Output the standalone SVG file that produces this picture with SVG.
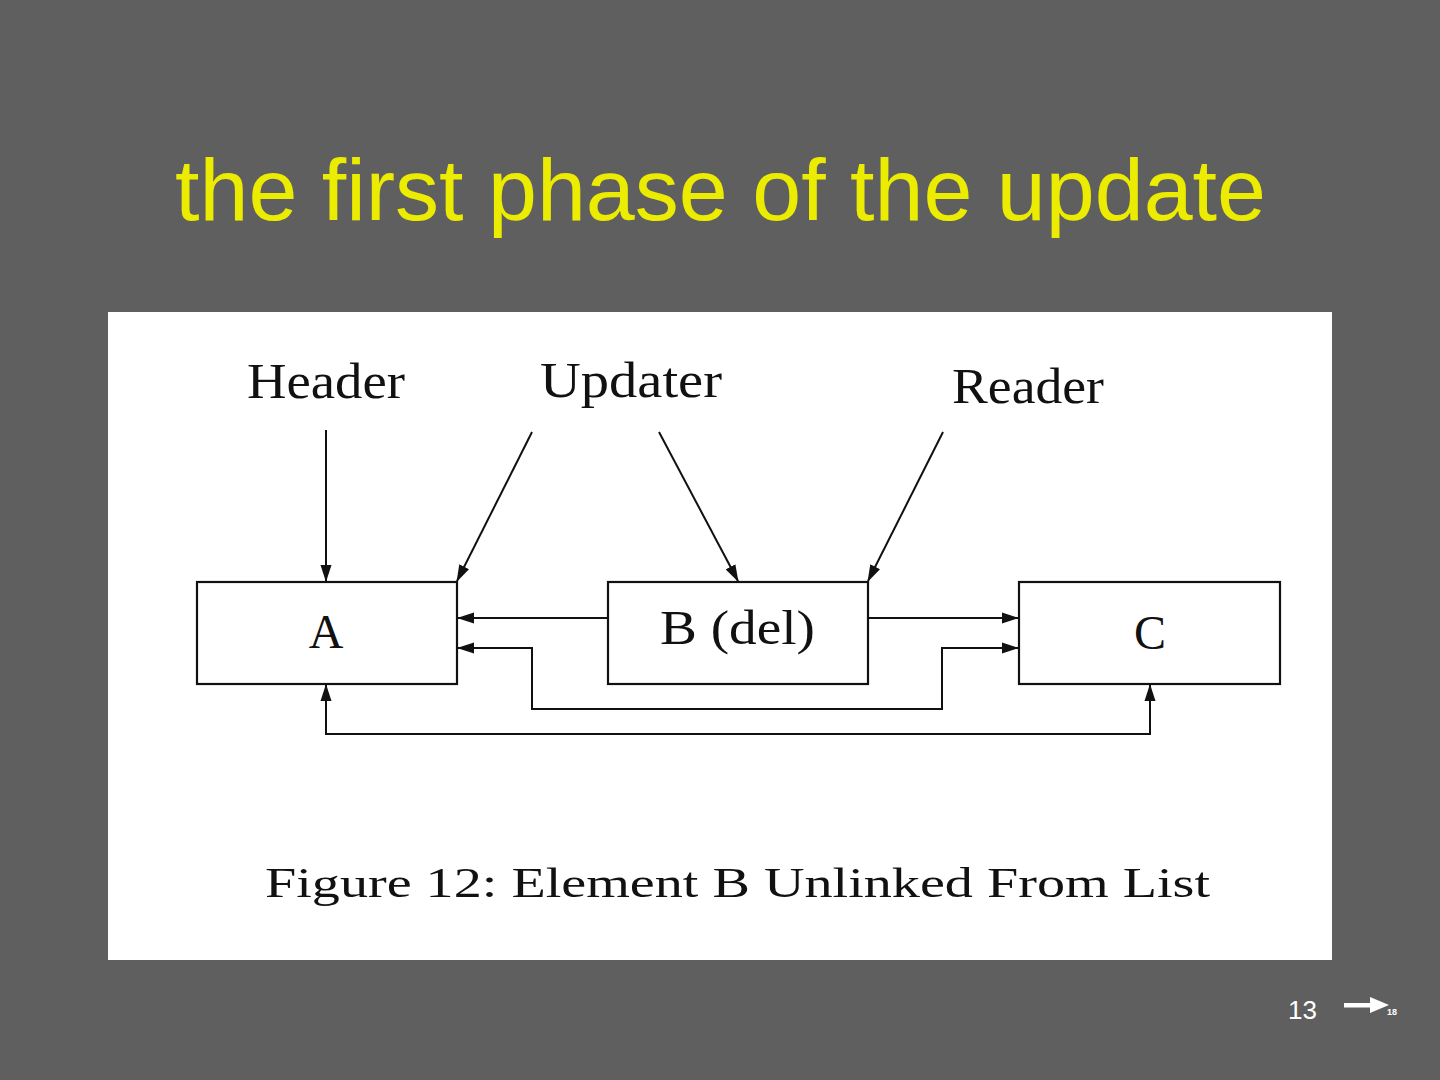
<svg xmlns="http://www.w3.org/2000/svg" width="1440" height="1080" viewBox="0 0 1440 1080">
<defs>
<style>
.lbl{font-family:"Liberation Serif","DejaVu Serif",serif;fill:#111;}
.box{fill:#fff;stroke:#111;stroke-width:2.2;}
.ln{fill:none;stroke:#111;stroke-width:2;}
</style>
<marker id="ah" markerUnits="userSpaceOnUse" markerWidth="17" markerHeight="12" refX="16" refY="5.5" orient="auto-start-reverse" viewBox="0 0 17 11">
<path d="M0,0 L17,5.5 L0,11 z" fill="#111"/>
</marker>
</defs>
<rect x="0" y="0" width="1440" height="1080" fill="#5f5f5f"/>
<text x="175" y="220" font-family="Liberation Sans, Arial, sans-serif" font-size="88" fill="#ecec00">the first phase of the update</text>
<rect x="108" y="312" width="1224" height="648" fill="#fff"/>
<g id="header-label"><text class="lbl" x="247" y="398" font-size="50" textLength="158" lengthAdjust="spacingAndGlyphs">Header</text></g>
<g id="updater-label"><text class="lbl" x="540" y="397" font-size="50" textLength="182" lengthAdjust="spacingAndGlyphs">Updater</text></g>
<g id="reader-label"><text class="lbl" x="952" y="403" font-size="50" textLength="152" lengthAdjust="spacingAndGlyphs">Reader</text></g>
<g id="nodeA"><rect class="box" x="197" y="582" width="260" height="102"/><text class="lbl" x="326" y="648" font-size="48" text-anchor="middle">A</text></g>
<g id="nodeB"><rect class="box" x="608" y="582" width="260" height="102"/><text class="lbl" x="660" y="644" font-size="48" textLength="155" lengthAdjust="spacingAndGlyphs">B (del)</text></g>
<g id="nodeC"><rect class="box" x="1019" y="582" width="261" height="102"/><text class="lbl" x="1150" y="649" font-size="48" text-anchor="middle">C</text></g>
<g id="connectors">
<line class="ln" x1="326" y1="430" x2="326" y2="581" marker-end="url(#ah)"/>
<line class="ln" x1="532" y1="432" x2="457" y2="581" marker-end="url(#ah)"/>
<line class="ln" x1="659" y1="432" x2="738" y2="581" marker-end="url(#ah)"/>
<line class="ln" x1="943" y1="432" x2="868" y2="581" marker-end="url(#ah)"/>
<line class="ln" x1="608" y1="618" x2="458" y2="618" marker-end="url(#ah)"/>
<line class="ln" x1="868" y1="618" x2="1018" y2="618" marker-end="url(#ah)"/>
<polyline class="ln" points="458,648 532,648 532,709 942,709 942,648 1018,648" marker-start="url(#ah)" marker-end="url(#ah)"/>
<polyline class="ln" points="326,685 326,734 1150,734 1150,685" marker-start="url(#ah)" marker-end="url(#ah)"/>
</g>
<text class="lbl" x="265" y="897" font-size="43" textLength="945" lengthAdjust="spacingAndGlyphs">Figure 12: Element B Unlinked From List</text>
<text x="1288" y="1019" font-family="Liberation Sans, Arial, sans-serif" font-size="26" fill="#fff">13</text>
<rect x="1344" y="1003" width="27" height="4.5" fill="#fff"/>
<path d="M1370,997 L1389,1005 L1370,1013 z" fill="#fff"/>
<text x="1387" y="1015" font-family="Liberation Sans, Arial, sans-serif" font-size="9" font-weight="bold" fill="#fff">18</text>
</svg>
